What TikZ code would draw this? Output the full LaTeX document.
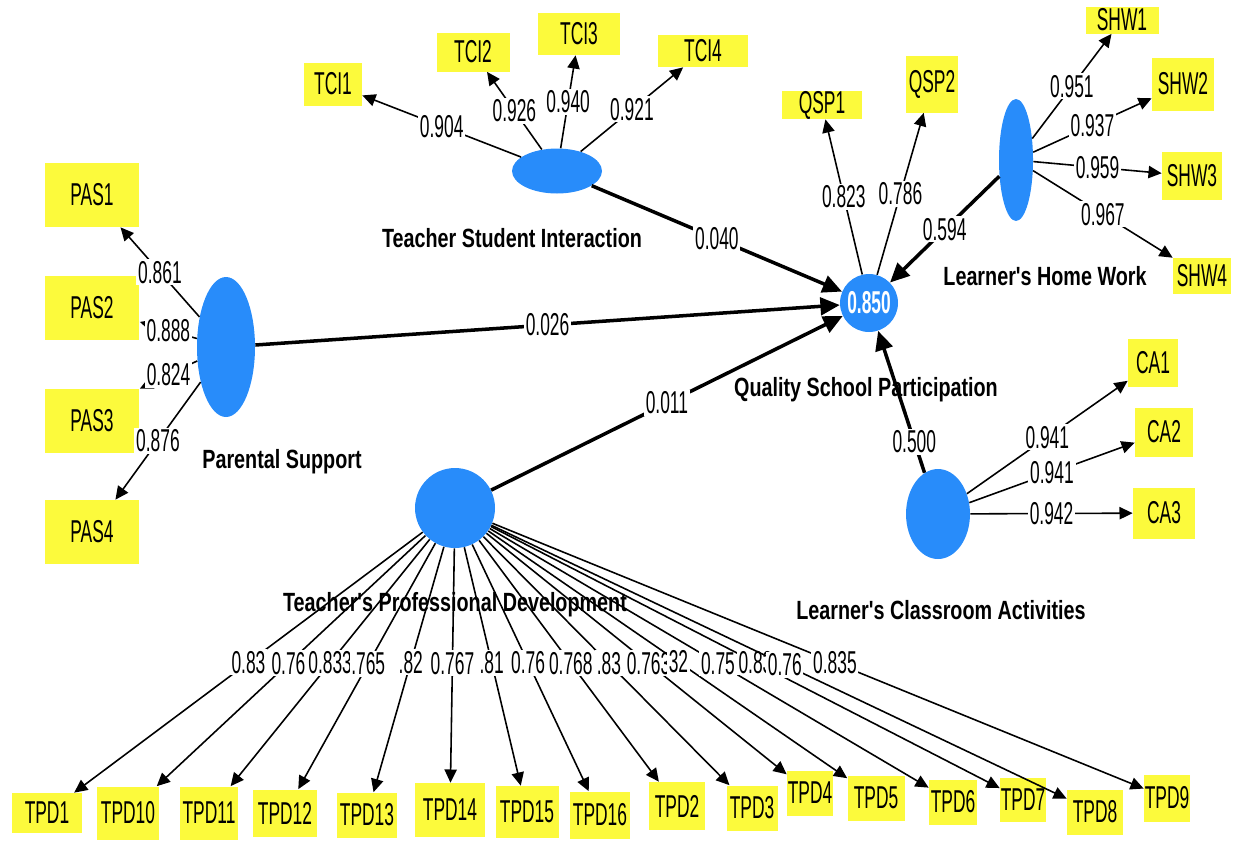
\documentclass[tikz,border=0pt]{standalone}
\usepackage{fontspec}
\setmainfont{Liberation Sans}
\newfontfamily\condfont{Liberation Sans}[FakeStretch=0.55]
\newfontfamily\headfont{Liberation Sans}[FakeStretch=0.75]
\usetikzlibrary{shapes.geometric,arrows.meta}
\definecolor{indyellow}{RGB}{252,250,60}
\definecolor{latblue}{RGB}{40,140,250}

\begin{document}
\begin{tikzpicture}[x=0.02cm,y=-0.02cm,
  ind/.style={fill=indyellow,inner sep=0pt,font=\condfont\fontsize{18}{20}\selectfont},
  lat/.style={fill=latblue,inner sep=0pt},
  val/.style={fill=white,inner sep=1pt,font=\condfont\fontsize{18}{20}\selectfont},
  head/.style={font=\headfont\bfseries\fontsize{15}{18}\selectfont},
  load/.style={line width=0.9pt,-{Triangle[length=7.5pt,width=7pt]}},
  struct/.style={line width=2pt,-{Triangle[length=11pt,width=10pt]}}]
  %\draw[step=100,gray,very thin] (0,0) grid (1236,843);
  \useasboundingbox (0,0) rectangle (1236,843);

  %construct names
  \node[head] (tsilab) at (512,238) {Teacher Student Interaction};
  \node[head] (pslab) at (282,462) {Parental Support};
  \node[head] (qsplab) at (866,390) {Quality School Participation};
  \node[head] (lhwlab) at (1045,276) {Learner's Home Work};
  \node[head] (tpdlab) at (455,605) {Teacher's Professional Development};
  \node[head] (lcalab) at (941,610) {Learner's Classroom Activities};

  %constructs
  \node[lat,ellipse,minimum width=1.8cm,minimum height=0.9cm] (tsi) at (557,171) {};
  \node[lat,ellipse,minimum width=1.16cm,minimum height=2.8cm] (ps) at (226,347) {};
  \node[lat,circle,minimum size=1.16cm,text=white,
        font=\condfont\bfseries\fontsize{18}{20}\selectfont] (qsp) at (869,303) {0.850};
  \node[lat,ellipse,minimum width=0.68cm,minimum height=2.44cm] (lhw) at (1016,160) {};
  \node[lat,circle,minimum size=1.6cm] (tpd) at (455,508) {};
  \node[lat,ellipse,minimum width=1.28cm,minimum height=1.8cm] (lca) at (938,514) {};

  %TCI
  \node[ind,minimum width=1.16cm,minimum height=0.86cm] (tci1) at (333,84) {TCI1};
  \node[ind,minimum width=1.46cm,minimum height=0.78cm] (tci2) at (473,52) {TCI2};
  \node[ind,minimum width=1.64cm,minimum height=0.84cm] (tci3) at (579,34) {TCI3};
  \node[ind,minimum width=1.80cm,minimum height=0.64cm] (tci4) at (703,51) {TCI4};

  %QSP
  \node[ind,minimum width=1.60cm,minimum height=0.52cm] (qsp1) at (822,105) {QSP1};
  \node[ind,minimum width=1.04cm,minimum height=1.14cm] (qsp2) at (932,84) {QSP2};

  %SHW
  \node[ind,minimum width=1.46cm,minimum height=0.54cm] (shw1) at (1122,20) {SHW1};
  \node[ind,minimum width=1.24cm,minimum height=1.06cm] (shw2) at (1183,84) {SHW2};
  \node[ind,minimum width=1.20cm,minimum height=0.96cm] (shw3) at (1192,176) {SHW3};
  \node[ind,minimum width=1.16cm,minimum height=0.72cm] (shw4) at (1202,276) {SHW4};

  %CA
  \node[ind,minimum width=1.00cm,minimum height=0.96cm] (ca1) at (1153,363) {CA1};
  \node[ind,minimum width=1.16cm,minimum height=0.98cm] (ca2) at (1164,432) {CA2};
  \node[ind,minimum width=1.24cm,minimum height=1.02cm] (ca3) at (1164,513) {CA3};

  %PAS
  \node[ind,minimum width=1.9cm,minimum height=1.28cm] (pas1) at (92,195) {PAS1};
  \node[ind,minimum width=1.9cm,minimum height=1.28cm] (pas2) at (92,308) {PAS2};
  \node[ind,minimum width=1.9cm,minimum height=1.28cm] (pas3) at (92,421) {PAS3};
  \node[ind,minimum width=1.9cm,minimum height=1.28cm] (pas4) at (92,532) {PAS4};

  %TPD
  \node[ind,minimum width=1.40cm,minimum height=0.80cm] (tpd1) at (47,813) {TPD1};
  \node[ind,minimum width=1.26cm,minimum height=1.06cm] (tpd10) at (128,813) {TPD10};
  \node[ind,minimum width=1.16cm,minimum height=1.06cm] (tpd11) at (209,813) {TPD11};
  \node[ind,minimum width=1.28cm,minimum height=0.94cm] (tpd12) at (285,813) {TPD12};
  \node[ind,minimum width=1.20cm,minimum height=0.90cm] (tpd13) at (367,815) {TPD13};
  \node[ind,minimum width=1.40cm,minimum height=1.08cm] (tpd14) at (450,810) {TPD14};
  \node[ind,minimum width=1.26cm,minimum height=1.04cm] (tpd15) at (527,812) {TPD15};
  \node[ind,minimum width=1.20cm,minimum height=0.94cm] (tpd16) at (600,815) {TPD16};
  \node[ind,minimum width=1.12cm,minimum height=0.96cm] (tpd2) at (677,806) {TPD2};
  \node[ind,minimum width=1.02cm,minimum height=0.90cm] (tpd3) at (752,808) {TPD3};
  \node[ind,minimum width=0.92cm,minimum height=0.90cm] (tpd4) at (810,793) {TPD4};
  \node[ind,minimum width=1.14cm,minimum height=0.90cm] (tpd5) at (876,798) {TPD5};
  \node[ind,minimum width=0.96cm,minimum height=0.90cm] (tpd6) at (953,802) {TPD6};
  \node[ind,minimum width=0.92cm,minimum height=0.88cm] (tpd7) at (1023,800) {TPD7};
  \node[ind,minimum width=1.12cm,minimum height=0.90cm] (tpd8) at (1095,812) {TPD8};
  \node[ind,minimum width=0.92cm,minimum height=0.94cm] (tpd9) at (1167,798) {TPD9};

  %inner model
  \draw[struct] (tsi) -- node[val]{0.040} (qsp);
  \draw[struct] (ps) -- node[val]{0.026} (qsp);
  \draw[struct] (tpd) -- node[val]{0.011} (qsp);
  \draw[struct] (lhw) -- node[val]{0.594} (qsp);
  \draw[struct] (lca) -- node[val,pos=0.22]{0.500} (qsp);

  %loadings
  \draw[load] (tsi) -- node[val]{0.904} (tci1);
  \draw[load] (tsi) -- node[val]{0.926} (tci2);
  \draw[load] (tsi) -- node[val]{0.940} (tci3);
  \draw[load] (tsi) -- node[val]{0.921} (tci4);

  \draw[load] (qsp) -- node[val]{0.823} (qsp1);
  \draw[load] (qsp) -- node[val]{0.786} (qsp2);

  \draw[load] (lhw) -- node[val]{0.951} (shw1);
  \draw[load] (lhw) -- node[val]{0.937} (shw2);
  \draw[load] (lhw) -- node[val]{0.959} (shw3);
  \draw[load] (lhw) -- node[val]{0.967} (shw4);

  \draw[load] (lca) -- node[val]{0.941} (ca1);
  \draw[load] (lca) -- node[val]{0.941} (ca2);
  \draw[load] (lca) -- node[val]{0.942} (ca3);

  \draw[load] (ps) -- node[val]{0.861} (pas1);
  \draw[load] (ps) -- node[val]{0.888} (pas2);
  \draw[load] (ps) -- node[val]{0.824} (pas3.north east);
  \draw[load] (ps) -- node[val]{0.876} (pas4);

  \draw[load] (tpd) -- node[val,pos=0.50]{0.83} (tpd1);
  \draw[load] (tpd) -- node[val,pos=0.51]{0.76} (tpd10);
  \draw[load] (tpd) -- node[val,pos=0.50]{0.833} (tpd11);
  \draw[load] (tpd) -- node[val,pos=0.49]{.765} (tpd12);
  \draw[load] (tpd) -- node[val,pos=0.47]{.82} (tpd13);
  \draw[load] (tpd) -- node[val,pos=0.49]{0.767} (tpd14);
  \draw[load] (tpd) -- node[val,pos=0.485]{.81} (tpd15);
  \draw[load] (tpd) -- node[val,pos=0.48]{0.76} (tpd16);
  \draw[load] (tpd) -- node[val,pos=0.51]{0.768} (tpd2);
  \draw[load] (tpd) -- node[val,pos=0.51]{.83} (tpd3);
  \draw[load] (tpd) -- node[val,pos=0.54]{0.763} (tpd4);
  \draw[load] (tpd) -- node[val,pos=0.53]{32} (tpd5);
  \draw[load] (tpd) -- node[val,pos=0.52]{0.75} (tpd6);
  \draw[load] (tpd) -- node[val,pos=0.52]{0.83} (tpd7);
  \draw[load] (tpd) -- node[val,pos=0.51]{0.76} (tpd8);
  \draw[load] (tpd) -- node[val,pos=0.526]{0.835} (tpd9);

\end{tikzpicture}
\end{document}
